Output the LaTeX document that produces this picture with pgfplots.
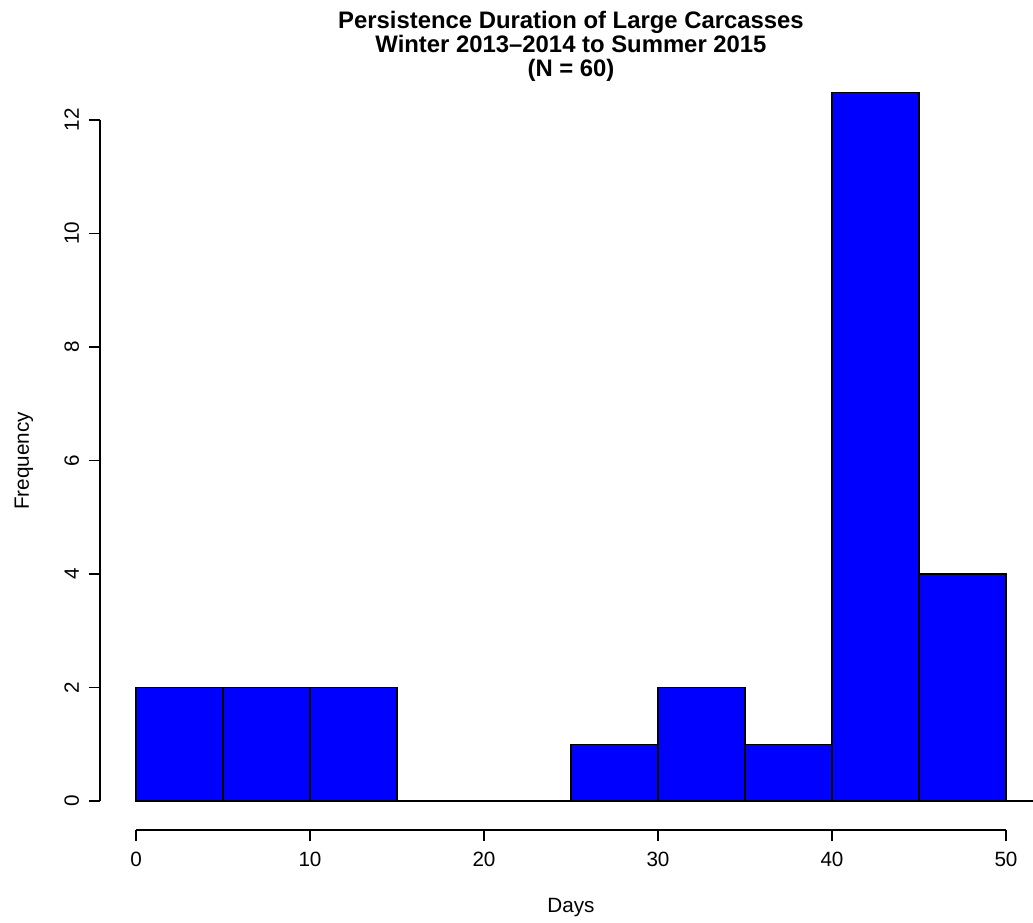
\documentclass[border=0pt]{standalone}
\usepackage{fontspec}
\setmainfont{Liberation Sans}
\usepackage{pgfplots}
\pgfplotsset{compat=1.18}
\begin{document}
\begin{tikzpicture}[x=1pt,y=1pt]
% 1 px of the reference = 0.75pt; origin = data point (0,0)
\path[use as bounding box] (-102,-91.5) rectangle (672.75,600.75);
\begin{axis}[
  at={(0,0)}, anchor=south west,
  scale only axis, width=652.5pt, height=510.75pt,
  xmin=0, xmax=50, ymin=0, ymax=12,
  clip=false,
  separate axis lines,
  axis x line*=bottom, axis y line*=left,
  axis x line shift=21.75pt, axis y line shift=27pt,
  xtick={0,10,...,50}, ytick={0,2,...,12},
  tick align=outside, major tick length=8.25pt,
  tick style={black, line width=1pt},
  axis line style={line width=1pt},
  ticklabel style={font=\fontsize{15.5}{18}\selectfont},
  /pgf/number format/assume math mode=true,
  yticklabel style={rotate=90, anchor=south},
  yticklabel shift=4pt,
  xticklabel shift=5pt,
]
\addplot[ybar interval, fill=blue, draw=black, line width=1pt]
  coordinates {(0,2) (5,2) (10,2) (15,0) (20,0) (25,1) (30,2) (35,1) (40,12.48) (45,4) (50,4)};
\draw[line width=1pt] (axis cs:50,0) -- (axis cs:52,0);
\end{axis}
\node[anchor=north, align=center, inner sep=0pt,
  font=\bfseries\fontsize{17.9}{18}\selectfont] at (326.25,592.5)
  {Persistence Duration of Large Carcasses\\Winter 2013--2014 to Summer 2015\\(N = 60)};
\node[font=\fontsize{15.5}{18}\selectfont] at (326.25,-80) {Days};
\node[rotate=90, font=\fontsize{15.5}{18}\selectfont] at (-84,255) {Frequency};
\end{tikzpicture}
\end{document}
